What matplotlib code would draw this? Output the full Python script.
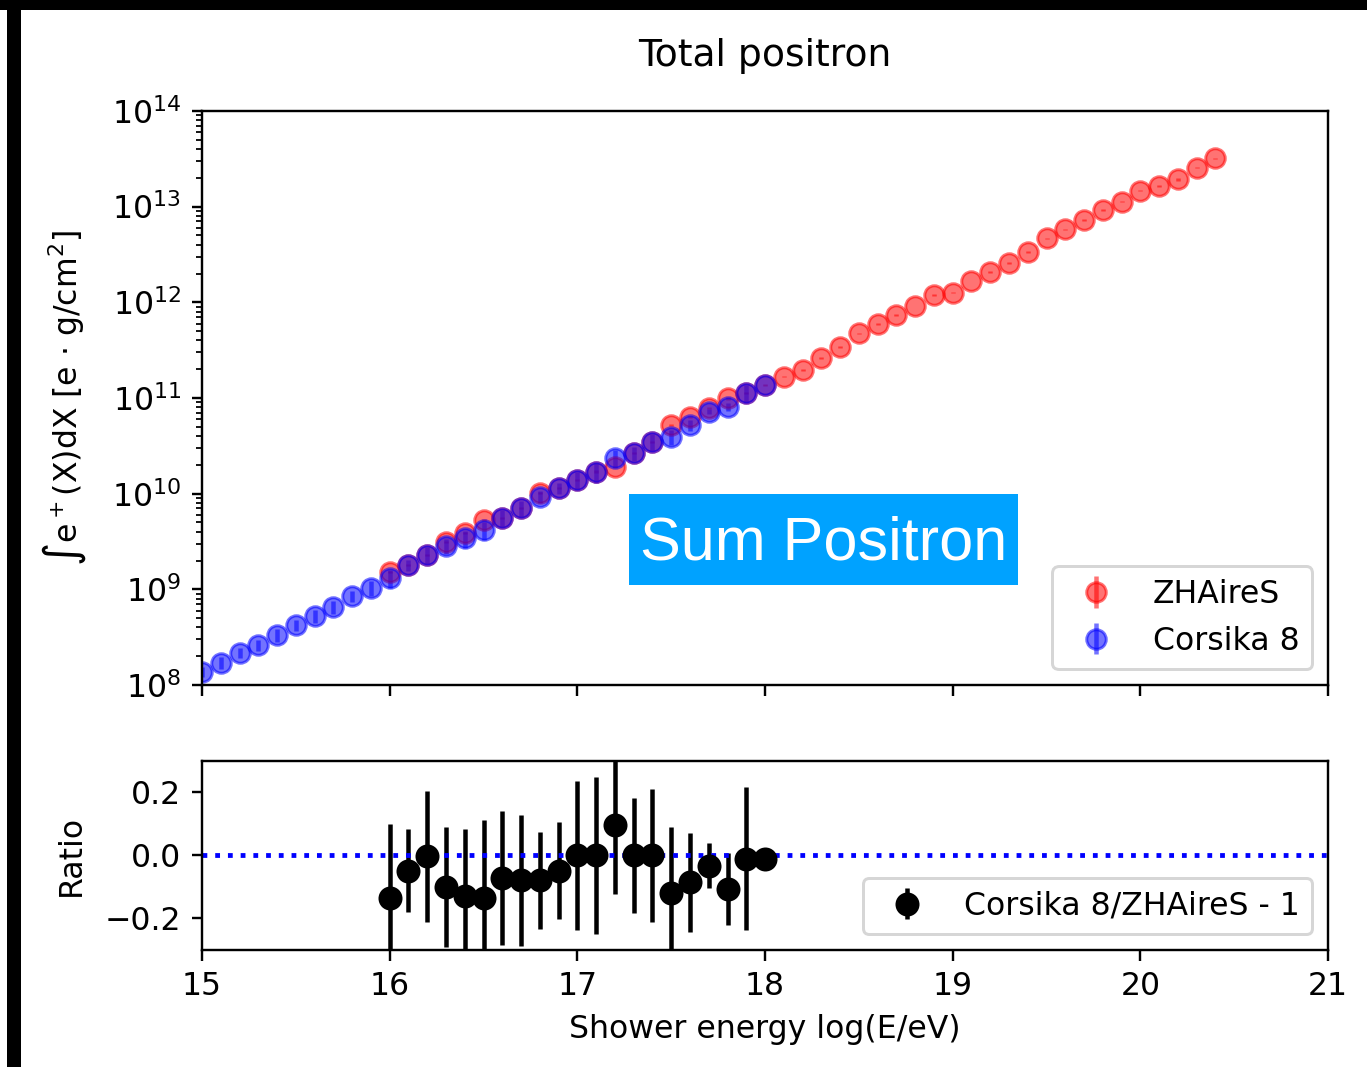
import numpy as np
import matplotlib
matplotlib.use("Agg")
import matplotlib.pyplot as plt
from matplotlib.patches import Rectangle

plt.rcParams["font.size"] = 10.5

# ---- data: shower energy in log10(E/eV), integrated positron content in log10 ----
zhaires_logE = [16.0, 16.1, 16.2, 16.3, 16.4, 16.5, 16.6, 16.7, 16.8, 16.9,
                17.0, 17.1, 17.2, 17.3, 17.4, 17.5, 17.6, 17.7, 17.8, 17.9,
                18.0, 18.1, 18.2, 18.3, 18.4, 18.5, 18.6, 18.7, 18.8, 18.9,
                19.0, 19.1, 19.2, 19.3, 19.4, 19.5, 19.6, 19.7, 19.8, 19.9,
                20.0, 20.1, 20.2, 20.3, 20.4]
zhaires_log10 = [9.184, 9.254, 9.359, 9.498, 9.589, 9.725, 9.746, 9.850, 10.007, 10.059,
                 10.143, 10.230, 10.282, 10.422, 10.543, 10.718, 10.804, 10.895, 10.997, 11.049,
                 11.136, 11.223, 11.293, 11.415, 11.530, 11.676, 11.770, 11.867, 11.961, 12.077,
                 12.101, 12.223, 12.320, 12.414, 12.529, 12.669, 12.763, 12.860, 12.965, 13.052,
                 13.167, 13.216, 13.286, 13.407, 13.505]
zhaires_relerr = [0.03, 0.02, 0.02, 0.02, 0.03, 0.02, 0.02, 0.03, 0.02, 0.02,
                  0.02, 0.03, 0.02, 0.02, 0.02, 0.03, 0.02, 0.02, 0.03, 0.02,
                  0.02, 0.01, 0.03, 0.02, 0.02, 0.01, 0.02, 0.03, 0.01, 0.02,
                  0.02, 0.01, 0.02, 0.02, 0.02, 0.01, 0.01, 0.02, 0.02, 0.01,
                  0.01, 0.02, 0.03, 0.01, 0.01]

corsika_logE = [15.0, 15.1, 15.2, 15.3, 15.4, 15.5, 15.6, 15.7, 15.8, 15.9,
                16.0, 16.1, 16.2, 16.3, 16.4, 16.5, 16.6, 16.7, 16.8, 16.9,
                17.0, 17.1, 17.2, 17.3, 17.4, 17.5, 17.6, 17.7, 17.8, 17.9, 18.0]
corsika_log10 = [8.139, 8.233, 8.334, 8.418, 8.523, 8.627, 8.721, 8.818, 8.933, 9.014,
                 9.118, 9.254, 9.359, 9.453, 9.533, 9.620, 9.746, 9.850, 9.968, 10.059,
                 10.143, 10.230, 10.373, 10.422, 10.543, 10.595, 10.718, 10.857, 10.909, 11.049,
                 11.136]
corsika_relerr = [0.12, 0.15, 0.12, 0.13, 0.15, 0.14, 0.16, 0.15, 0.13, 0.17,
                  0.22, 0.13, 0.20, 0.18, 0.20, 0.22, 0.20, 0.19, 0.14, 0.14,
                  0.22, 0.23, 0.20, 0.17, 0.20, 0.19, 0.14, 0.06, 0.10, 0.21,
                  0.01]

# ---- ratio Corsika 8 / ZHAireS - 1 ----
ratio_logE = [16.0, 16.1, 16.2, 16.3, 16.4, 16.5, 16.6, 16.7, 16.8, 16.9,
              17.0, 17.1, 17.2, 17.3, 17.4, 17.5, 17.6, 17.7, 17.8, 17.9, 18.0]
ratio_val = [-0.135, -0.048, -0.002, -0.101, -0.130, -0.135, -0.071, -0.079, -0.079, -0.048,
             0.000, 0.000, 0.096, 0.000, 0.000, -0.119, -0.085, -0.032, -0.106, -0.011, -0.011]
ratio_err = [0.234, 0.133, 0.208, 0.190, 0.215, 0.247, 0.212, 0.208, 0.155, 0.153,
             0.236, 0.248, 0.218, 0.184, 0.212, 0.209, 0.157, 0.070, 0.115, 0.227, 0.000]

zh = 10 ** np.array(zhaires_log10)
co = 10 ** np.array(corsika_log10)

DPI = 216
fig = plt.figure(figsize=(1367 / DPI, 1067 / DPI), dpi=DPI)

ax = fig.add_axes([0.1478, 0.358, 0.8237, 0.538])
rax = fig.add_axes([0.1478, 0.1097, 0.8237, 0.1771])

ax.errorbar(zhaires_logE, zh, yerr=zh * np.array(zhaires_relerr), fmt="o",
            color="red", alpha=0.55, markersize=6.5, label="ZHAireS")
ax.errorbar(corsika_logE, co, yerr=co * np.array(corsika_relerr), fmt="o",
            color="blue", alpha=0.55, markersize=6.5, label="Corsika 8")
ax.set_yscale("log")
ax.set_ylim(1e8, 1e14)
ax.set_xlim(15, 21)
ax.set_xticks(range(15, 22))
ax.tick_params(axis="x", labelbottom=False)
ax.set_ylabel(r"$\int$e$^+$(X)dX [e $\cdot$ g/cm$^2$]", labelpad=8)
ax.set_title("Total positron", fontsize=12.6, pad=15)
ax.legend(loc="lower right")

rax.errorbar(ratio_logE, ratio_val, yerr=ratio_err, fmt="o", color="black",
             markersize=7, label="Corsika 8/ZHAireS - 1")
rax.axhline(0, color="blue", linestyle=":", linewidth=1.6)
rax.set_xlim(15, 21)
rax.set_ylim(-0.3, 0.3)
rax.set_xticks(range(15, 22))
rax.set_yticks([-0.2, 0.0, 0.2])
rax.set_xlabel("Shower energy log(E/eV)")
rax.set_ylabel("Ratio", labelpad=6)
rax.legend(loc="lower right")

# annotation box
fig.patches.append(Rectangle((629 / 1367, 1 - 585 / 1067), 389 / 1367, 91 / 1067,
                             transform=fig.transFigure, facecolor="#00a2ff",
                             edgecolor="none", zorder=5))
fig.text(823.5 / 1367, 1 - 544 / 1067, "Sum Positron", color="white",
         family="Liberation Sans", fontsize=20.4, ha="center", va="center", zorder=6)

# dark frame strips along top and left edge
fig.patches.append(Rectangle((0, 1 - 10 / 1067), 1, 10 / 1067,
                             transform=fig.transFigure, facecolor="black", edgecolor="none"))
fig.patches.append(Rectangle((7 / 1367, 0), 14 / 1367, 1,
                             transform=fig.transFigure, facecolor="black", edgecolor="none"))

fig.savefig("out.png", dpi=DPI, facecolor="white")
